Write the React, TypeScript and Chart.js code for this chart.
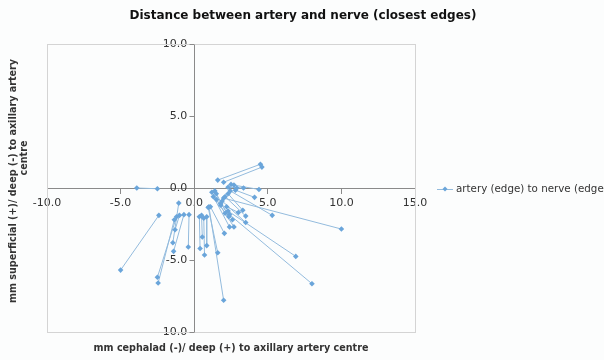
import React, { useEffect, useRef } from "react";
import { Chart, registerables } from "chart.js";

Chart.register(...registerables);

const chartTitle = "Distance between artery and nerve (closest edges)";
const seriesLabel = "artery (edge) to nerve (edge)";
const xAxisTitle = "mm cephalad (-)/ deep (+) to axillary artery centre";
const yAxisTitleLines = ["mm superficial (+)/ deep (-) to axillary artery", "centre"];

const xMin = -10, xMax = 15, xStep = 5;
const yMin = -10, yMax = 10, yStep = 5;

// each segment: artery edge point -> nerve edge point
const arteryX = [1.6, 2.0, -2.5, -2.4, -1.2, -1.35, -1.05, -0.7, -0.35, -1.0, 0.35, 0.65, 0.85, 0.5, 0.95, 1.0, 1.1, 1.3, 2.0, 2.3, 2.4, 2.45, 2.8, 2.7, 2.1, 2.3, 1.9, 1.5, 2.3, 1.2, 1.4, 1.5, 2.5, 1.8, 2.2];
const arteryY = [0.55, 0.4, -0.05, -1.9, -2.0, -2.2, -1.05, -1.85, -1.85, -1.9, -2.0, -2.1, -2.0, -1.9, -1.35, -1.3, -1.3, -0.6, -0.7, -1.6, -1.85, -0.2, -0.15, 0.2, -0.6, -0.4, -0.9, -0.8, 0.05, -0.3, -0.2, -0.4, 0.25, -1.1, -1.3];
const nerveX = [4.5, 4.6, -3.9, -5.0, -2.5, -2.45, -1.45, -1.4, -0.4, -1.3, 0.4, 0.7, 0.85, 0.55, 1.6, 2.0, 2.05, 2.4, 10.0, 6.9, 8.0, 5.3, 4.1, 4.4, 3.5, 3.3, 3.5, 2.7, 3.35, 2.1, 2.35, 1.8, 2.9, 2.6, 3.0];
const nerveY = [1.65, 1.45, 0.0, -5.7, -6.2, -6.6, -3.8, -4.4, -4.1, -2.9, -4.2, -4.65, -4.0, -3.4, -4.5, -7.8, -3.15, -2.7, -2.85, -4.75, -6.65, -1.9, -0.65, -0.1, -1.95, -1.55, -2.4, -2.7, 0.0, -1.75, -2.0, -1.2, 0.0, -2.2, -1.7];

const lineColor = "#93bbdd";
const pointColor = "#6aa5da";
const axisColor = "#8a8a8a";
const textColor = "#333333";
const fontFamily = "'DejaVu Sans', Verdana, sans-serif";

function buildData() {
  const out: any[] = [];
  for (let i = 0; i < arteryX.length; i++) {
    out.push({ x: arteryX[i], y: arteryY[i] });
    out.push({ x: nerveX[i], y: nerveY[i] });
    out.push({ x: null, y: null });
  }
  return out;
}

const decorPlugin = {
  id: "decor",
  beforeDatasetsDraw(chart: any) {
    const { ctx, chartArea } = chart;
    ctx.save();
    ctx.strokeStyle = "#d4d4d4";
    ctx.lineWidth = 1;
    ctx.strokeRect(chartArea.left + 0.5, chartArea.top + 0.5, chartArea.right - chartArea.left, chartArea.bottom - chartArea.top);
    // small outside tick marks on y axis (left side)
    const yS = chart.scales.y;
    const xPix = Math.round(chart.scales.x.getPixelForValue(0)) + 0.5;
    ctx.strokeStyle = axisColor;
    ctx.beginPath();
    yS.ticks.forEach((t: any) => {
      const p = Math.round(yS.getPixelForValue(t.value)) + 0.5;
      ctx.moveTo(xPix - 5, p);
      ctx.lineTo(xPix, p);
    });
    ctx.stroke();
    ctx.restore();
  },
  afterDraw(chart: any) {
    const { ctx, chartArea } = chart;
    ctx.save();
    // chart title
    ctx.fillStyle = "#111";
    ctx.font = `bold 12px ${fontFamily}`;
    ctx.textAlign = "center";
    ctx.textBaseline = "middle";
    ctx.fillText(chartTitle, 303, 16);
    // axis titles
    ctx.fillStyle = textColor;
    ctx.font = `bold 9.6px ${fontFamily}`;
    ctx.fillText(xAxisTitle, (chartArea.left + chartArea.right) / 2, 348);
    ctx.save();
    ctx.translate(13, 181);
    ctx.rotate(-Math.PI / 2);
    ctx.fillText(yAxisTitleLines[0], 0, 0);
    ctx.fillText(yAxisTitleLines[1], 23, 11);
    ctx.restore();
    // legend
    const ly = 189;
    ctx.strokeStyle = lineColor;
    ctx.lineWidth = 1;
    ctx.beginPath();
    ctx.moveTo(437, ly + 0.5);
    ctx.lineTo(453, ly + 0.5);
    ctx.stroke();
    ctx.fillStyle = pointColor;
    ctx.beginPath();
    ctx.moveTo(445, ly - 2.5);
    ctx.lineTo(447.5, ly);
    ctx.lineTo(445, ly + 2.5);
    ctx.lineTo(442.5, ly);
    ctx.closePath();
    ctx.fill();
    ctx.fillStyle = textColor;
    ctx.font = `10.3px ${fontFamily}`;
    ctx.textAlign = "left";
    ctx.fillText(chart.data.datasets[0].label, 456, ly);
    ctx.restore();
  },
};

export default function App() {
  const ref = useRef<HTMLCanvasElement>(null);
  useEffect(() => {
    const chart = new Chart(ref.current!, {
      type: "scatter",
      data: {
        datasets: [
          {
            label: seriesLabel,
            data: buildData(),
            showLine: true,
            spanGaps: false,
            borderColor: lineColor,
            borderWidth: 1,
            pointStyle: "rectRot",
            pointRadius: 2.8,
            pointBackgroundColor: pointColor,
            pointBorderColor: pointColor,
            pointBorderWidth: 0,
          },
        ],
      },
      options: {
        animation: false,
        responsive: false,
        layout: { padding: { left: 47, right: 189, top: 44, bottom: 28 } },
        plugins: {
          legend: { display: false },
          tooltip: { enabled: false },
          title: { display: false },
        },
        scales: {
          x: {
            type: "linear",
            min: xMin,
            max: xMax,
            position: { y: 0 },
            border: { color: axisColor, width: 1 },
            grid: { drawOnChartArea: false, drawTicks: true, tickLength: 5, color: axisColor },
            ticks: {
              stepSize: xStep,
              color: textColor,
              padding: 4,
              font: { family: fontFamily, size: 11 },
              callback: (v: any) => Number(v).toFixed(1),
              maxRotation: 0,
            },
          },
          y: {
            type: "linear",
            min: yMin,
            max: yMax,
            position: { x: 0 },
            border: { color: axisColor, width: 1 },
            grid: { drawOnChartArea: false, drawTicks: false, color: axisColor },
            ticks: {
              stepSize: yStep,
              color: textColor,
              font: { family: fontFamily, size: 11 },
              callback: (v: any) => Number(v).toFixed(1) + "  ",
            },
          },
        },
      },
      plugins: [decorPlugin],
    });
    return () => chart.destroy();
  }, []);
  return (
    <div style={{ position: "fixed", left: 0, top: 0, width: 604, height: 360, background: "#fcfdfd" }}>
      <canvas ref={ref} width={604} height={360} style={{ width: 604, height: 360, display: "block" }} />
    </div>
  );
}
